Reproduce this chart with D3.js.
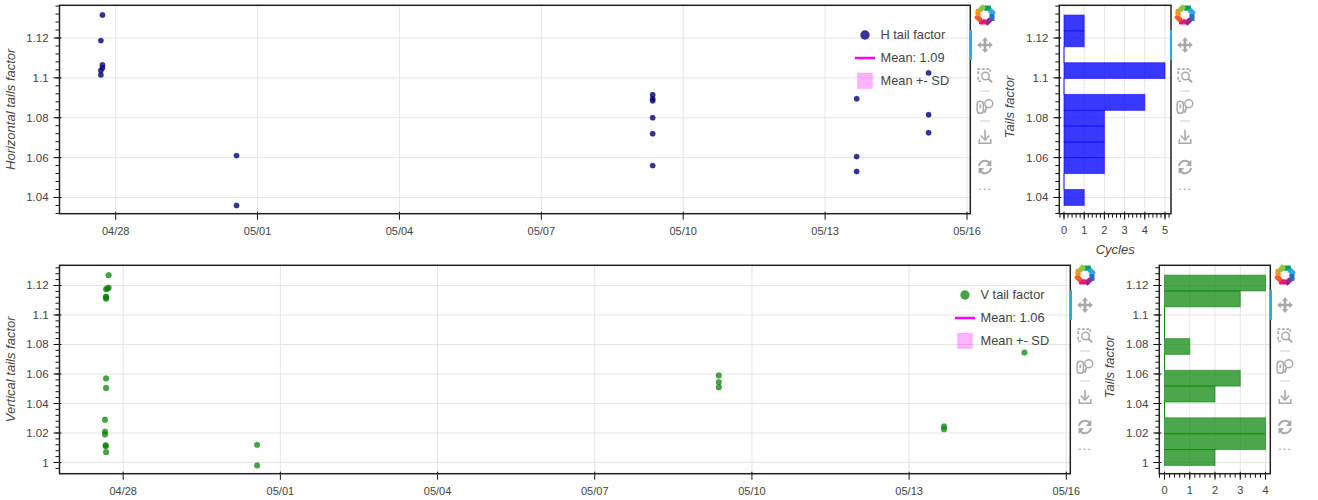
<!DOCTYPE html>
<html><head><meta charset="utf-8">
<style>html,body{margin:0;padding:0;background:#fff;overflow:hidden}svg{display:block}
text{font-family:"Liberation Sans",Arial,sans-serif}</style>
<script src="https://cdn.jsdelivr.net/npm/d3@7"></script></head><body>
<svg id="c" width="1318" height="500"></svg>
<script>
const hDates=["2024-04-27T17:18","2024-04-27T16:30","2024-04-27T17:18","2024-04-27T17:18","2024-04-27T16:30","2024-04-27T16:30",
"2024-04-30T13:20","2024-04-30T13:20",
"2024-05-09T08:30","2024-05-09T08:30","2024-05-09T08:30","2024-05-09T08:30","2024-05-09T08:30","2024-05-09T08:30",
"2024-05-13T16:00","2024-05-13T16:00","2024-05-13T16:00",
"2024-05-15T04:30","2024-05-15T04:30","2024-05-15T04:30"];
const hValues=[1.1315,1.1187,1.1065,1.105,1.1037,1.1015,1.061,1.036,1.0915,1.0895,1.0885,1.08,1.072,1.056,1.0895,1.0605,1.053,1.1025,1.0815,1.0725];
const vDates=["2024-04-27T17:20","2024-04-27T17:20","2024-04-27T16:50","2024-04-27T16:10","2024-04-27T16:10","2024-04-27T16:10","2024-04-27T16:10","2024-04-27T16:10","2024-04-27T16:10","2024-04-27T15:40","2024-04-27T15:40","2024-04-27T15:40","2024-04-27T16:00","2024-04-27T16:00","2024-04-27T16:10",
"2024-04-30T13:20","2024-04-30T13:20",
"2024-05-09T08:50","2024-05-09T08:50","2024-05-09T08:50",
"2024-05-13T16:00","2024-05-13T16:00","2024-05-15T04:50"];
const vValues=[1.127,1.1185,1.118,1.1175,1.1125,1.112,1.111,1.057,1.0505,1.029,1.021,1.019,1.0118,1.011,1.007,1.012,0.998,1.059,1.0545,1.051,1.0245,1.0225,1.0745];
const hEdges=[1.036,1.044,1.052,1.06,1.0678,1.0758,1.0837,1.0917,1.0997,1.1076,1.1156,1.1236,1.1315];
const hCounts=[1,0,2,2,2,2,4,0,5,0,1,1];
const vEdges=[0.998,1.0088,1.0195,1.0303,1.041,1.0518,1.0625,1.0733,1.084,1.0948,1.1055,1.1163,1.127];
const vCounts=[2,4,4,0,2,3,0,1,0,0,3,4];
const yTickValues=[1,1.02,1.04,1.06,1.08,1.1,1.12];
const hHistTicks=[0,1,2,3,4,5];
const vHistTicks=[0,1,2,3,4];
const hLegend=["H tail factor","Mean: 1.09","Mean +- SD"];
const vLegend=["V tail factor","Mean: 1.06","Mean +- SD"];
const logoColors=["#0a9e5c","#27a9e1","#2b6cc4","#8e2b8e","#e6197a","#f15a24","#f7941d","#8cc63f"];

const svg=d3.select("#c");
const parse=d3.utcParse("%Y-%m-%dT%H:%M");
const tickColor="#444", axisColor="#111", gridColor="#e5e5e5";

function frame(b){
  const g=svg.append("g");
  g.append("rect").attr("x",b.l).attr("y",b.t).attr("width",b.r-b.l).attr("height",b.b-b.t).attr("fill","#fff");
  return g;
}
function yAxisDraw(g,b,y){
  const minors=d3.range(Math.ceil(y.domain()[0]/0.004),Math.floor(y.domain()[1]/0.004)+1).map(i=>i*0.004);
  g.selectAll(null).data(minors).enter().append("line").attr("x1",b.l-4).attr("x2",b.l).attr("y1",d=>y(d)).attr("y2",d=>y(d)).attr("stroke",axisColor);
  const t=yTickValues.filter(d=>d>=y.domain()[0]);
  g.selectAll(null).data(t).enter().append("line").attr("x1",b.l-6).attr("x2",b.l+2).attr("y1",d=>y(d)).attr("y2",d=>y(d)).attr("stroke",axisColor);
  g.selectAll(null).data(t).enter().append("text").attr("x",b.l-10.9).attr("y",d=>y(d)+4).attr("text-anchor","end").attr("font-size",11.5).attr("fill",tickColor).text(d=>String(+d.toFixed(2)));
}
function vGrid(g,b,xs,f){g.selectAll(null).data(xs).enter().append("line").attr("x1",d=>f(d)).attr("x2",d=>f(d)).attr("y1",b.t).attr("y2",b.b).attr("stroke",gridColor);}
function hGrid(g,b,y){g.selectAll(null).data(yTickValues.filter(d=>d>=y.domain()[0])).enter().append("line").attr("x1",b.l).attr("x2",b.r).attr("y1",d=>y(d)).attr("y2",d=>y(d)).attr("stroke",gridColor);}
function border(g,b){
  g.append("rect").attr("x",b.l).attr("y",b.t).attr("width",b.r-b.l).attr("height",b.b-b.t).attr("fill","none").attr("stroke","#222").attr("stroke-width",1.5);
}
function yLabel(x,y,s){svg.append("text").attr("transform",`translate(${x},${y}) rotate(-90)`).attr("text-anchor","middle").attr("font-size",13).attr("font-style","italic").attr("fill",tickColor).text(s);}

function scatter(b,T0,T1,dates,vals,yDom,color,alpha,r,label,legend,legX){
  const g=frame(b);
  const x=d3.scaleUtc().domain([T0,T1]).range([b.l,b.r]);
  const y=d3.scaleLinear().domain(yDom).range([b.b,b.t]);
  const ticks=d3.utcDay.range(new Date(Date.UTC(2024,3,28)),new Date(Date.UTC(2024,4,17)),3);
  vGrid(g,b,ticks,x); hGrid(g,b,y);
  const pts=dates.map((d,i)=>({d:parse(d),v:vals[i]}));
  g.selectAll(null).data(pts).enter().append("circle").attr("cx",d=>x(d.d)).attr("cy",d=>y(d.v)).attr("r",r).attr("fill",color).attr("fill-opacity",alpha).attr("stroke",color).attr("stroke-opacity",alpha*0.3).attr("stroke-width",1);
  g.selectAll(null).data(ticks).enter().append("line").attr("x1",d=>x(d)).attr("x2",d=>x(d)).attr("y1",b.b-2).attr("y2",b.b+6).attr("stroke",axisColor);
  g.selectAll(null).data(ticks).enter().append("text").attr("x",d=>x(d)).attr("y",b.b+21.5).attr("text-anchor","middle").attr("font-size",11).attr("fill",tickColor).text(d3.utcFormat("%m/%d"));
  yAxisDraw(g,b,y);
  border(g,b);
  yLabel(b.l-44.5,b.t+104,label);
  const top=Math.round(b.t);
  g.append("circle").attr("cx",legX+10).attr("cy",top+30).attr("r",4.7).attr("fill",color).attr("fill-opacity",alpha);
  g.append("line").attr("x1",legX).attr("x2",legX+20).attr("y1",top+53).attr("y2",top+53).attr("stroke","#f0f").attr("stroke-width",2.5);
  g.append("rect").attr("x",legX+2.5).attr("y",top+68).attr("width",15).attr("height",15.5).attr("fill","#f0f").attr("fill-opacity",.3).attr("stroke","#f0f").attr("stroke-opacity",.1);
  legend.forEach((s,i)=>g.append("text").attr("x",legX+25.5).attr("y",top+33.5+i*23).attr("font-size",12.8).attr("fill",tickColor).text(s));
}
function hist(b,edges,counts,xDom,yDom,ticks,fill,alpha,withLabel){
  const g=frame(b);
  const x=d3.scaleLinear().domain(xDom).range([b.l,b.r]);
  const y=d3.scaleLinear().domain(yDom).range([b.b,b.t]);
  vGrid(g,b,ticks,x); hGrid(g,b,y);
  const bins=counts.map((c,i)=>({c,y0:edges[i],y1:edges[i+1]}));
  g.selectAll(null).data(bins.filter(d=>d.c>0)).enter().append("rect").attr("x",x(0)).attr("y",d=>y(d.y1)).attr("width",d=>x(d.c)-x(0)).attr("height",d=>y(d.y0)-y(d.y1)).attr("fill",fill).attr("fill-opacity",alpha).attr("stroke",fill).attr("stroke-opacity",.55);
  g.selectAll(null).data(bins.filter(d=>d.c===0)).enter().append("line").attr("x1",x(0)).attr("x2",x(0)).attr("y1",d=>y(d.y1)).attr("y2",d=>y(d.y0)).attr("stroke",fill).attr("stroke-opacity",.95);
  const minors=d3.range(Math.ceil(xDom[0]/0.2),Math.floor(xDom[1]/0.2)+1).map(i=>i*0.2);
  g.selectAll(null).data(minors).enter().append("line").attr("x1",d=>x(d)).attr("x2",d=>x(d)).attr("y1",b.b).attr("y2",b.b+4).attr("stroke",axisColor);
  g.selectAll(null).data(ticks).enter().append("line").attr("x1",d=>x(d)).attr("x2",d=>x(d)).attr("y1",b.b-2).attr("y2",b.b+6).attr("stroke",axisColor);
  g.selectAll(null).data(ticks).enter().append("text").attr("x",d=>x(d)).attr("y",b.b+20.5).attr("text-anchor","middle").attr("font-size",11).attr("fill",tickColor).text(d=>d);
  yAxisDraw(g,b,y);
  border(g,b);
  yLabel(b.l-45.3,Math.round(b.t)+102,"Tails factor");
  if(withLabel) svg.append("text").attr("x",(b.l+b.r)/2).attr("y",b.b+40.5).attr("text-anchor","middle").attr("font-size",13).attr("font-style","italic").attr("fill",tickColor).text("Cycles");
}
function toolbar(cx,top,barX){
  const c="#a8a8a8";
  const g=svg.append("g");
  g.append("rect").attr("x",barX).attr("y",top+25).attr("width",2).attr("height",30).attr("fill","#26aae1");
  const logo=g.append("g").attr("transform",`translate(${cx},${top+10})`);
  logoColors.forEach((col,i)=>{
    logo.append("rect").attr("x",-1).attr("y",-9.5).attr("width",7).attr("height",5.2).attr("rx",1)
      .attr("fill",col).attr("transform",`rotate(${i*45})`);
  });
  const line=(gg,d,w=1.5)=>gg.append("path").attr("d",d).attr("fill","none").attr("stroke",c).attr("stroke-width",w);
  const pan=g.append("g").attr("transform",`translate(${cx},${top+40}) scale(1.05)`);
  line(pan,"M-5,0H5M0,-5V5",2.4);
  pan.append("path").attr("fill",c).attr("d","M0,-7.5L3,-4H-3ZM0,7.5L3,4H-3ZM-7.5,0L-4,3V-3ZM7.5,0L4,3V-3Z");
  const bz=g.append("g").attr("transform",`translate(${cx},${top+71}) scale(1.05)`);
  bz.append("path").attr("d","M-6.5,-2V-6.5H5V-4M-6.5,1V5H-3").attr("fill","none").attr("stroke",c).attr("stroke-width",1.6).attr("stroke-dasharray","2.5 1.6");
  bz.append("circle").attr("cx",0.5).attr("cy",0).attr("r",3.6).attr("fill","none").attr("stroke",c).attr("stroke-width",1.4);
  line(bz,"M3,2.6L6.8,6",1.8);
  g.append("line").attr("x1",cx-5).attr("x2",cx+5).attr("y1",top+86).attr("y2",top+86).attr("stroke","#ccc");
  const wz=g.append("g").attr("transform",`translate(${cx},${top+101}) scale(1.05)`);
  wz.append("rect").attr("x",-7.5).attr("y",-4.5).attr("width",6).attr("height",11.5).attr("rx",3).attr("fill","none").attr("stroke",c).attr("stroke-width",1.4);
  line(wz,"M-4.5,-1.5V2",1.6);
  wz.append("circle").attr("cx",3.6).attr("cy",-2.2).attr("r",3.8).attr("fill","none").attr("stroke",c).attr("stroke-width",1.4);
  line(wz,"M1.5,1L-0.3,6.5",1.8);
  g.append("line").attr("x1",cx-5).attr("x2",cx+5).attr("y1",top+116).attr("y2",top+116).attr("stroke","#ccc");
  const sv=g.append("g").attr("transform",`translate(${cx},${top+132}) scale(1.05)`);
  line(sv,"M0,-7V2",1.5); line(sv,"M-4,-1.5L0,3L4,-1.5",1.5); line(sv,"M-5.5,2V6H5.5V2",1.4);
  const rs=g.append("g").attr("transform",`translate(${cx},${top+162}) scale(1.1)`);
  line(rs,"M-5.5,-1A5.7,5.7 0 0 1 4.5,-3.5",1.8); line(rs,"M5.5,1A5.7,5.7 0 0 1 -4.5,3.5",1.8);
  rs.append("path").attr("fill",c).attr("d","M5.8,-6.5V-1H0.8ZM-5.8,6.5V1H-0.8Z");
  g.append("text").attr("x",cx).attr("y",top+185).attr("text-anchor","middle").attr("font-size",13).attr("letter-spacing","1").attr("fill","#999").text("...");
}

scatter({l:59.5,r:970.3,t:5.3,b:213.7},Date.UTC(2024,3,26,19,30),Date.UTC(2024,4,16,1,40),hDates,hValues,[1.03187,1.1364],"#000080",.8,2.7,"Horizontal tails factor",hLegend,855);
scatter({l:59.5,r:1070.3,t:265.3,b:473.7},Date.UTC(2024,3,26,18,50),Date.UTC(2024,4,16,1,50),vDates,vValues,[0.99241,1.13369],"#008000",.72,2.9,"Vertical tails factor",vLegend,955);
hist({l:1059.3,r:1171,t:5.3,b:213.7},hEdges,hCounts,[-0.2327,5.297],[1.03187,1.1364],hHistTicks,"#0000ff",.78,true);
hist({l:1159.3,r:1270.3,t:265.3,b:473.7},vEdges,vCounts,[-0.206,4.19],[0.99241,1.13369],vHistTicks,"#008000",.7,false);
toolbar(985,5,970);toolbar(1185,5,1170);toolbar(1085,265,1070);toolbar(1285,265,1270);
</script></body></html>
